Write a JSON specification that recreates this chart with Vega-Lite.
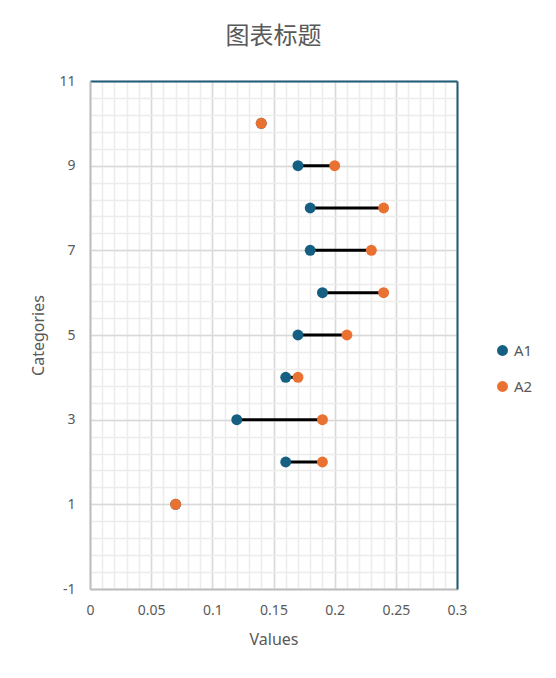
{
  "$schema": "https://vega.github.io/schema/vega-lite/v6.json",
  "width": 367,
  "height": 508,
  "autosize": {"type": "none"},
  "padding": {"left": 90, "top": 81, "right": 99, "bottom": 89},
  "background": "white",
  "title": {
    "text": "图表标题",
    "font": "Noto Sans CJK SC",
    "fontSize": 24,
    "fontWeight": "normal",
    "color": "#595959",
    "offset": 25
  },
  "data": {
    "values": [
      {"cat": 1, "A1": 0.07, "A2": 0.07},
      {"cat": 2, "A1": 0.16, "A2": 0.19},
      {"cat": 3, "A1": 0.12, "A2": 0.19},
      {"cat": 4, "A1": 0.16, "A2": 0.17},
      {"cat": 5, "A1": 0.17, "A2": 0.21},
      {"cat": 6, "A1": 0.19, "A2": 0.24},
      {"cat": 7, "A1": 0.18, "A2": 0.23},
      {"cat": 8, "A1": 0.18, "A2": 0.24},
      {"cat": 9, "A1": 0.17, "A2": 0.2},
      {"cat": 10, "A1": 0.14, "A2": 0.14}
    ]
  },
  "resolve": {"axis": {"x": "independent", "y": "independent"}},
  "layer": [
    {
      "mark": {"type": "rule", "color": "black", "strokeWidth": 3},
      "encoding": {
        "x": {
          "field": "A1",
          "type": "quantitative",
          "scale": {"domain": [0, 0.3], "nice": false, "zero": false},
          "axis": {
            "orient": "top",
            "values": [0, 0.01, 0.02, 0.03, 0.04, 0.05, 0.06, 0.07, 0.08, 0.09, 0.1, 0.11, 0.12, 0.13, 0.14, 0.15, 0.16, 0.17, 0.18, 0.19, 0.2, 0.21, 0.22, 0.23, 0.24, 0.25, 0.26, 0.27, 0.28, 0.29, 0.3],
            "grid": true,
            "gridColor": "#ECECEC",
            "gridWidth": 1.5,
            "labels": false,
            "ticks": false,
            "domainColor": "#1F5C7A",
            "domainWidth": 2,
            "title": null
          }
        },
        "x2": {"field": "A2"},
        "y": {
          "field": "cat",
          "type": "quantitative",
          "scale": {"domain": [-1, 11], "nice": false, "zero": false},
          "axis": {
            "orient": "right",
            "values": [-1, -0.6, -0.2, 0.2, 0.6, 1, 1.4, 1.8, 2.2, 2.6, 3, 3.4, 3.8, 4.2, 4.6, 5, 5.4, 5.8, 6.2, 6.6, 7, 7.4, 7.8, 8.2, 8.6, 9, 9.4, 9.8, 10.2, 10.6, 11],
            "grid": true,
            "gridColor": "#ECECEC",
            "gridWidth": 1.5,
            "labels": false,
            "ticks": false,
            "domainColor": "#1F5C7A",
            "domainWidth": 2,
            "title": null
          }
        }
      }
    },
    {
      "transform": [{"fold": ["A1", "A2"], "as": ["series", "value"]}],
      "mark": {"type": "circle", "opacity": 1},
      "encoding": {
        "x": {
          "field": "value",
          "type": "quantitative",
          "axis": {
            "orient": "bottom",
            "values": [0, 0.05, 0.1, 0.15, 0.2, 0.25, 0.3],
            "labelExpr": "'' + datum.value",
            "grid": true,
            "gridColor": "#D9D9D9",
            "gridWidth": 1.5,
            "ticks": false,
            "domainColor": "#BFBFBF",
            "domainWidth": 2,
            "labelColor": "#595959",
            "labelFont": "Noto Sans",
            "labelFontSize": 14,
            "labelPadding": 14,
            "labelFlush": false,
            "title": "Values",
            "titleColor": "#595959",
            "titleFont": "Noto Sans",
            "titleFontSize": 16,
            "titleFontWeight": "normal",
            "titlePadding": 14
          }
        },
        "y": {
          "field": "cat",
          "type": "quantitative",
          "axis": {
            "orient": "left",
            "values": [-1, 1, 3, 5, 7, 9, 11],
            "labelExpr": "'' + datum.value",
            "grid": true,
            "gridColor": "#D9D9D9",
            "gridWidth": 1.5,
            "ticks": false,
            "domainColor": "#BFBFBF",
            "domainWidth": 2,
            "labelColor": "#595959",
            "labelFont": "Noto Sans",
            "labelFontSize": 14,
            "labelPadding": 15,
            "labelFlush": false,
            "title": "Categories",
            "titleColor": "#595959",
            "titleFont": "Noto Sans",
            "titleFontSize": 16,
            "titleFontWeight": "normal",
            "titlePadding": 12
          }
        },
        "color": {
          "field": "series",
          "type": "nominal",
          "scale": {"domain": ["A1", "A2"], "range": ["#156082", "#E97132"]},
          "legend": {
            "title": null,
            "orient": "none",
            "legendX": 405,
            "legendY": 262,
            "symbolType": "circle",
            "symbolSize": 120,
            "symbolOpacity": 1,
            "labelFont": "Noto Sans",
            "labelFontSize": 15,
            "labelColor": "#595959",
            "labelOffset": 4,
            "rowPadding": 20
          }
        },
        "size": {"value": 120}
      }
    }
  ]
}
